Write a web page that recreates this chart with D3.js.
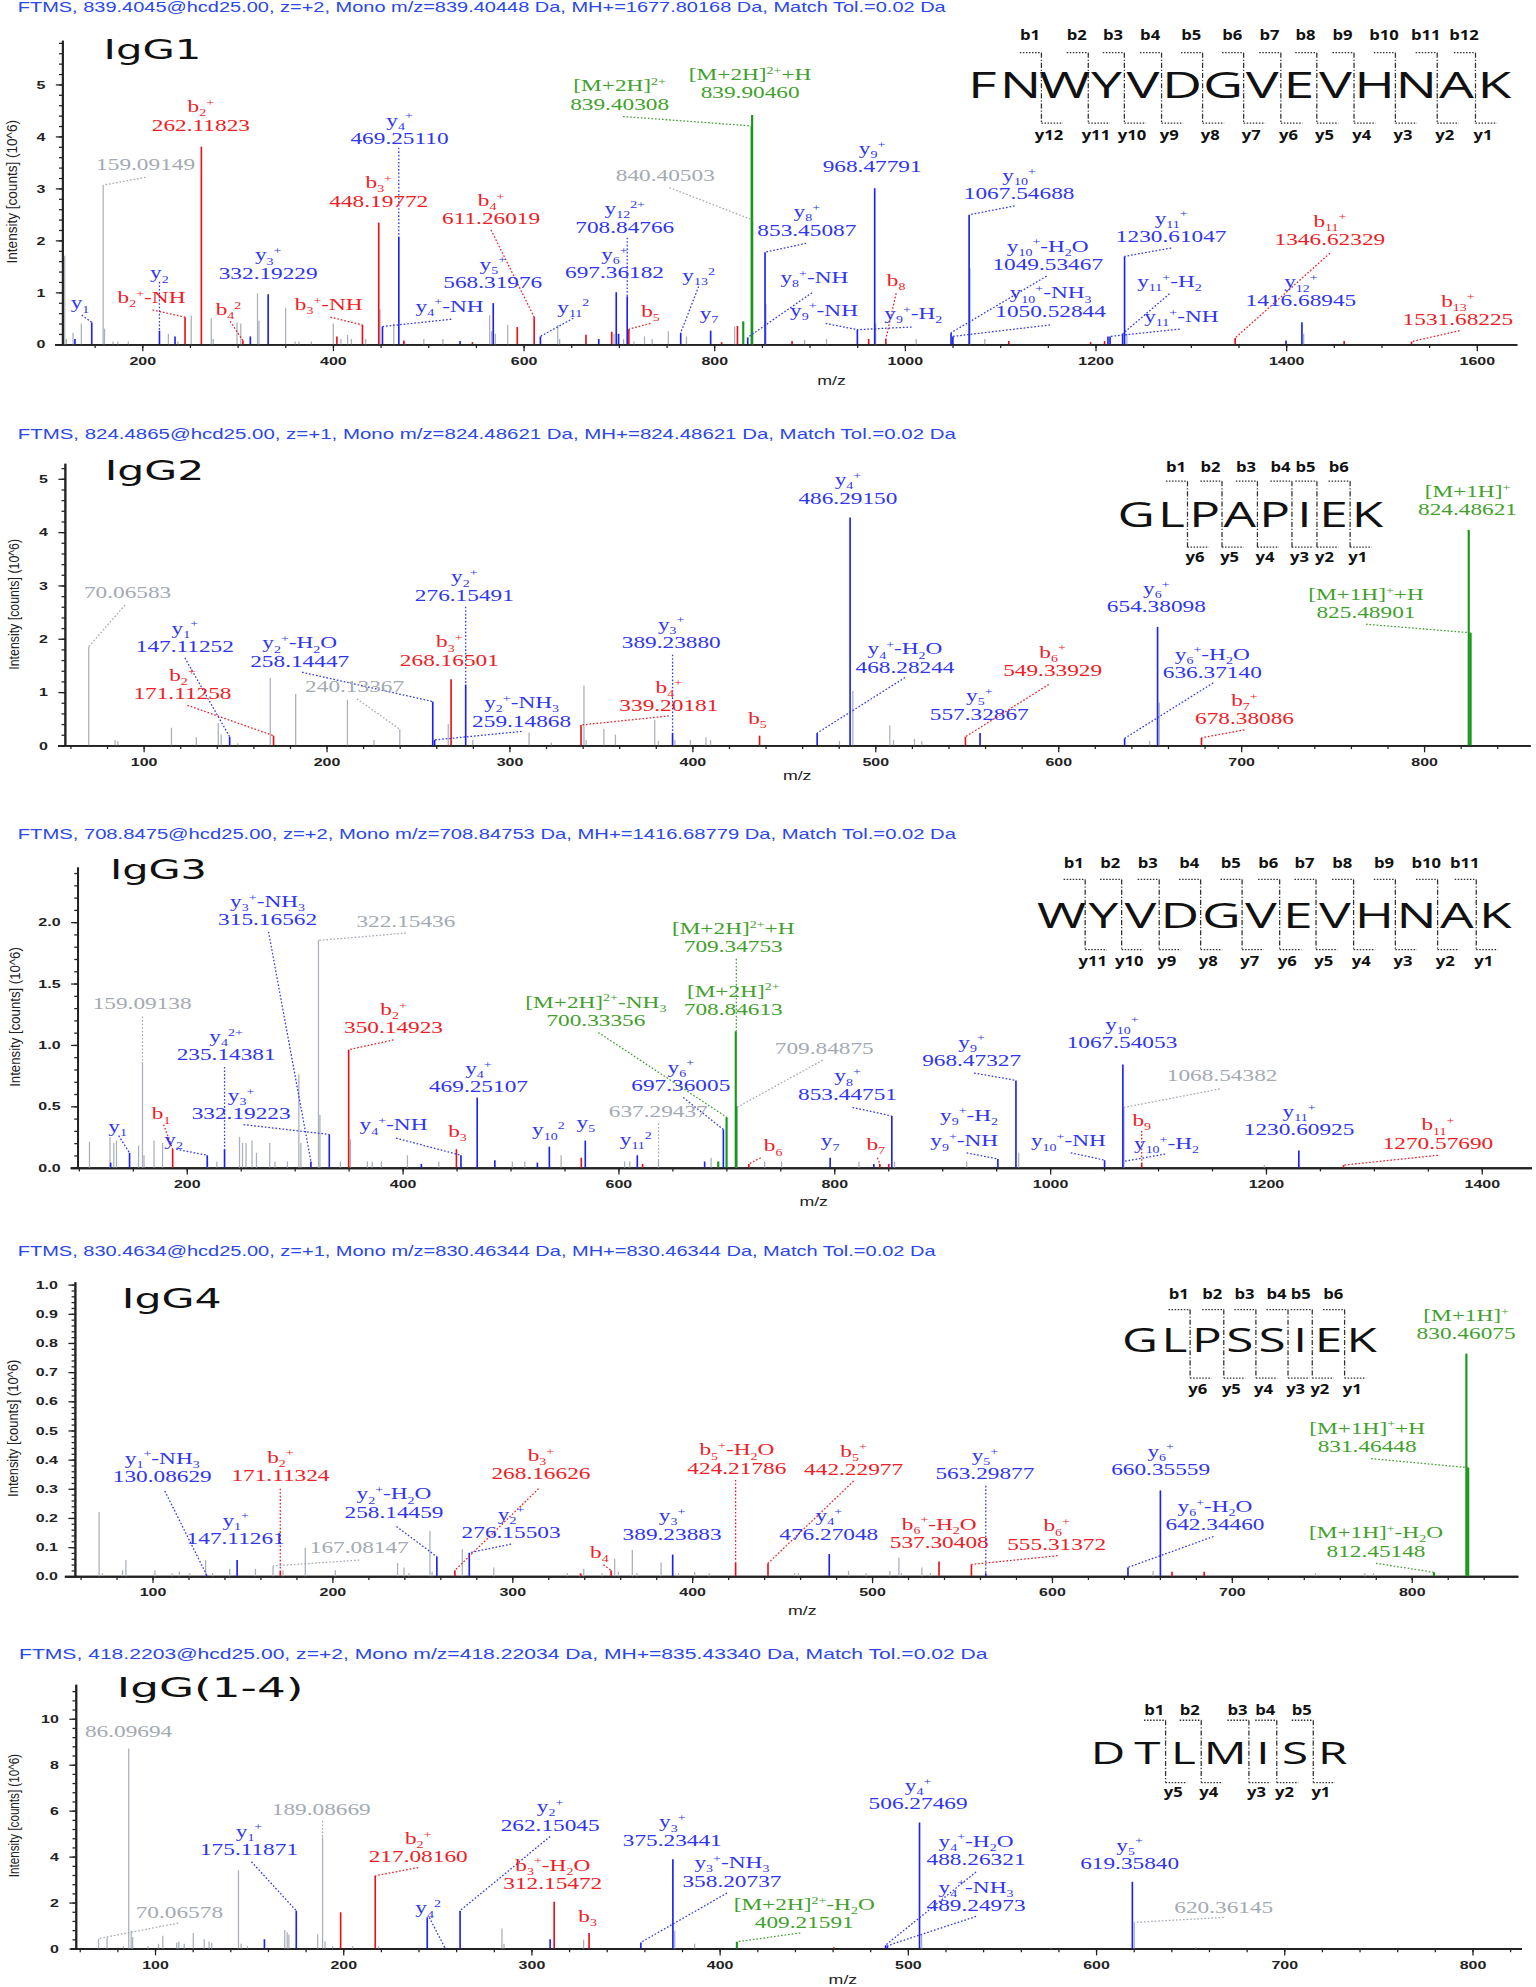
<!DOCTYPE html>
<html>
<head>
<meta charset="utf-8">
<script src="https://cdn.jsdelivr.net/npm/d3@7"></script>
<style>
  body { margin: 0; background: #fff; }
  svg { display: block; }
</style>
</head>
<body>
<svg id="fig"></svg>
<script>
// ---------------- IgG1 ----------------
var igg1Header = "FTMS, 839.4045@hcd25.00, z=+2, Mono m/z=839.40448 Da, MH+=1677.80168 Da, Match Tol.=0.02 Da";
var igg1Seq = "FNWYVDGVEVHNAK";
var igg1Cuts = [2, 3, 4, 5, 6, 7, 8, 9, 10, 11, 12, 13];
var igg1XTicks = [200, 400, 600, 800, 1000, 1200, 1400, 1600];
var igg1YTicks = [0, 1, 2, 3, 4, 5];
var igg1Peaks = [
  [118.8,1.70,"u"],[120.5,0.10,"u"],[127.5,0.22,"u"],[136.2,0.40,"u"],[159.09,3.06,"u"],[160.5,0.30,"u"],
  [169.5,0.05,"u"],[174.5,0.05,"u"],[185.5,0.05,"u"],[227.5,0.20,"u"],[237.5,0.05,"u"],[251.5,0.55,"u"],
  [272.5,0.50,"u"],[274.5,0.10,"u"],[299.5,0.42,"u"],[303.5,0.40,"u"],[321,0.98,"u"],[322.5,0.45,"u"],
  [350.5,0.70,"u"],[360.5,0.05,"u"],[364.5,0.05,"u"],[377.5,0.05,"u"],[400.5,0.40,"u"],[408.5,0.10,"u"],
  [415.5,0.18,"u"],[419.5,0.10,"u"],[434.5,0.10,"u"],[449.5,0.67,"u"],[464,0.40,"u"],[475.5,0.05,"u"],
  [495.5,0.10,"u"],[515.5,0.10,"u"],[564.5,0.56,"u"],[566.5,0.25,"u"],[570.5,0.20,"u"],[583.5,0.37,"u"],
  [636,0.37,"u"],[638,0.10,"u"],[695,0.20,"u"],[705,0.10,"u"],[716,0.05,"u"],[727,0.15,"u"],[735,0.10,"u"],
  [752,0.25,"u"],[771,0.15,"u"],[821.6,0.34,"u"],[840.40,2.39,"u"],[854.4,0.78,"u"],[895,0.08,"u"],
  [918,0.10,"u"],[969.5,0.40,"u"],[1012,0.10,"u"],[1068.5,1.46,"u"],[1084,0.10,"u"],[1233,0.20,"u"],[1418.5,0.20,"u"],
  [245,0.52,"b"],[262.12,3.80,"b"],[305.7,0.07,"b"],[404.3,0.15,"b"],[431.1,0.37,"b"],[448.20,2.34,"b"],
  [474.5,0.07,"b"],[546.5,0.04,"b"],[593.5,0.33,"b"],[611.26,0.52,"b"],[665.6,0.18,"b"],[692.6,0.24,"b"],
  [710.6,0.29,"b"],[807.9,0.04,"b"],[824.5,0.35,"b"],[881.8,0.06,"b"],[962.2,0.10,"b"],[980.2,0.10,"b"],
  [1109.2,0.06,"b"],[1195,0.04,"b"],[1209.7,0.06,"b"],[1346.62,0.12,"b"],[1461,0.06,"b"],[1531.68,0.05,"b"],
  [129.5,0.10,"y"],[147.11,0.42,"y"],[218.15,0.26,"y"],[234.5,0.15,"y"],[313.5,0.15,"y"],[332.19,0.96,"y"],
  [452.1,0.34,"y"],[469.25,2.07,"y"],[533.5,0.06,"y"],[568.32,0.79,"y"],[617.8,0.15,"y"],[679,0.10,"y"],
  [697.36,1.00,"y"],[699.8,0.20,"y"],[708.85,0.92,"y"],[765,0.22,"y"],[796.4,0.26,"y"],[835.3,0.13,"y"],
  [853.45,1.77,"y"],[950.3,0.28,"y"],[968.48,3.00,"y"],[1048.6,0.22,"y"],[1050.53,0.15,"y"],[1067.55,2.49,"y"],
  [1213.2,0.15,"y"],[1215.4,0.15,"y"],[1228.6,0.20,"y"],[1230.61,1.69,"y"],[1400,0.07,"y"],[1416.69,0.42,"y"],
  [830.6,0.44,"m"],[839.40,4.20,"m"],[839.90,4.41,"m"]
];
var igg1Labels = [
  ["", "159.09149", "u", 159.09, 3.06],
  ["b_{2}^{+}", "262.11823", "b", 262.12, 3.80],
  ["y_{4}^{+}", "469.25110", "y", 469.25, 2.07],
  ["b_{3}^{+}", "448.19772", "b", 448.20, 2.34],
  ["b_{4}^{+}", "611.26019", "b", 611.26, 0.52],
  ["y_{3}^{+}", "332.19229", "y", 332.19, 0.96],
  ["y_{5}^{+}", "568.31976", "y", 568.32, 0.79],
  ["y_{2}", "", "y", 218.15, 0.26],
  ["y_{1}", "", "y", 147.11, 0.42],
  ["b_{2}^{+}-NH", "", "b", 245, 0.52],
  ["b_{4}^{2}", "", "b", 305.7, 0.07],
  ["b_{3}^{+}-NH", "", "b", 431.1, 0.37],
  ["y_{4}^{+}-NH", "", "y", 452.1, 0.34],
  ["[M+2H]^{2+}", "839.40308", "m", 839.40, 4.20],
  ["[M+2H]^{2+}+H", "839.90460", "m", 839.90, 4.41],
  ["", "840.40503", "u", 840.40, 2.39],
  ["y_{12}^{2+}", "708.84766", "y", 708.85, 0.92],
  ["y_{6}^{+}", "697.36182", "y", 697.36, 1.00],
  ["y_{13}^{2}", "", "y", 765, 0.22],
  ["y_{11}^{2}", "", "y", 617.8, 0.15],
  ["b_{5}", "", "b", 710.6, 0.29],
  ["y_{7}", "", "y", 796.4, 0.26],
  ["y_{8}^{+}", "853.45087", "y", 853.45, 1.77],
  ["y_{8}^{+}-NH", "", "y", 835.3, 0.13],
  ["y_{9}^{+}-NH", "", "y", 950.3, 0.28],
  ["b_{8}", "", "b", 980.2, 0.10],
  ["y_{9}^{+}", "968.47791", "y", 968.48, 3.00],
  ["y_{9}^{+}-H_{2}", "", "y", 950.3, 0.28],
  ["y_{10}^{+}", "1067.54688", "y", 1067.55, 2.49],
  ["y_{10}^{+}-H_{2}O", "1049.53467", "y", 1048.6, 0.22],
  ["y_{10}^{+}-NH_{3}", "1050.52844", "y", 1050.53, 0.15],
  ["y_{11}^{+}", "1230.61047", "y", 1230.61, 1.69],
  ["y_{11}^{+}-H_{2}", "", "y", 1228.6, 0.20],
  ["y_{11}^{+}-NH", "", "y", 1215.4, 0.15],
  ["b_{11}^{+}", "1346.62329", "b", 1346.62, 0.12],
  ["y_{12}^{+}", "1416.68945", "y", 1416.69, 0.42],
  ["b_{13}^{+}", "1531.68225", "b", 1531.68, 0.05]
];
var igg1LabelAt = [
  [203.6,3.46,203.6,3.21],[261.6,4.22],[470,3.96,469.25,3.78],[448.2,2.76],[566,2.42,566,2.20],
  [332.2,1.37],[567.8,1.19],[218.1,1.38,218.15,1.20],[134.8,0.80,136.6,0.56],[209.8,0.90,210.9,0.66],
  [290.6,0.67,292.4,0.44],[395.7,0.77,397.5,0.52],[522.5,0.74,524.3,0.48],[700.9,4.62,704.5,4.38],
  [837.8,4.84],[748.8,3.26,753.2,3.01],[706.3,2.26,708.85,2.05],[695.5,1.38],[783.8,1.33,783.8,1.11],
  [652.3,0.72,652.3,0.50],[733.3,0.63,733.3,0.40],[794.6,0.60],[897.3,2.20,896.6,1.94],
  [905.2,1.29,902.7,0.99],[915.3,0.66,917,0.40],[991,1.24,991,0.98],[965.8,3.42],
  [1009,0.60,1007.2,0.33],[1120,2.90,1115.3,2.66],[1150,1.54,1148.8,1.31],[1153,0.64,1152.4,0.37],
  [1279.5,2.08,1279.5,1.85],[1277.7,1.21,1277.7,0.97],[1290.2,0.54,1288.5,0.29],[1446,2.02,1446,1.75],
  [1415.6,0.85],[1580.3,0.48,1582,0.26]
];

// ---------------- IgG2 ----------------
var igg2Header = "FTMS, 824.4865@hcd25.00, z=+1, Mono m/z=824.48621 Da, MH+=824.48621 Da, Match Tol.=0.02 Da";
var igg2Seq = "GLPAPIEK";
var igg2Cuts = [2, 3, 4, 5, 6, 7];
var igg2XTicks = [100, 200, 300, 400, 500, 600, 700, 800];
var igg2YTicks = [0, 1, 2, 3, 4, 5];
var igg2Peaks = [
  [70.07,1.85,"u"],[84.5,0.10,"u"],[86,0.08,"u"],[115.3,0.33,"u"],[128.9,0.15,"u"],[140.9,0.42,"u"],
  [142.5,0.20,"u"],[151.5,0.04,"u"],[169.3,1.26,"u"],[183.2,0.96,"u"],[211.5,0.85,"u"],[226,0.10,"u"],
  [240.13,0.30,"u"],[266.6,0.40,"u"],[280,0.10,"u"],[310.8,0.24,"u"],[323,0.05,"u"],[340.8,1.12,"u"],
  [342,0.10,"u"],[351.7,0.31,"u"],[358,0.20,"u"],[379.5,0.48,"u"],[381.5,0.08,"u"],[390.5,0.10,"u"],
  [399,0.10,"u"],[407.5,0.15,"u"],[410,0.10,"u"],[480.5,0.08,"u"],[487.8,1.02,"u"],[508,0.37,"u"],
  [510,0.10,"u"],[521.5,0.12,"u"],[525.5,0.08,"u"],[650,0.08,"u"],[655.3,0.80,"u"],
  [171.11,0.18,"b"],[268.17,1.24,"b"],[339.20,0.38,"b"],[436.8,0.18,"b"],[549.34,0.16,"b"],[678.38,0.14,"b"],
  [147.11,0.16,"y"],[258.14,0.82,"y"],[259.15,0.10,"y"],[276.15,1.14,"y"],[389.24,0.23,"y"],[468.28,0.23,"y"],
  [486.29,4.27,"y"],[557.33,0.23,"y"],[636.37,0.13,"y"],[654.38,2.22,"y"],
  [824.49,4.04,"m"],[825.49,2.11,"m"]
];
var igg2Labels = [
  ["", "70.06583", "u", 70.07, 1.85],
  ["y_{1}^{+}", "147.11252", "y", 147.11, 0.16],
  ["y_{2}^{+}-H_{2}O", "258.14447", "y", 258.14, 0.82],
  ["b_{2}^{+}", "171.11258", "b", 171.11, 0.18],
  ["", "240.13367", "u", 240.13, 0.30],
  ["y_{2}^{+}", "276.15491", "y", 276.15, 1.14],
  ["b_{3}^{+}", "268.16501", "b", 268.17, 1.24],
  ["y_{2}^{+}-NH_{3}", "259.14868", "y", 259.15, 0.10],
  ["y_{3}^{+}", "389.23880", "y", 389.24, 0.23],
  ["b_{4}^{+}", "339.20181", "b", 339.20, 0.38],
  ["b_{5}", "", "b", 436.8, 0.18],
  ["y_{4}^{+}", "486.29150", "y", 486.29, 4.27],
  ["y_{4}^{+}-H_{2}O", "468.28244", "y", 468.28, 0.23],
  ["y_{5}^{+}", "557.32867", "y", 557.33, 0.23],
  ["b_{6}^{+}", "549.33929", "b", 549.34, 0.16],
  ["y_{6}^{+}", "654.38098", "y", 654.38, 2.22],
  ["y_{6}^{+}-H_{2}O", "636.37140", "y", 636.37, 0.13],
  ["b_{7}^{+}", "678.38086", "b", 678.38, 0.14],
  ["[M+1H]^{+}", "824.48621", "m", 824.49, 4.04],
  ["[M+1H]^{+}+H", "825.48901", "m", 825.49, 2.11]
];
var igg2LabelAt = [
  [91.3,2.87,89.9,2.63],[122.6,1.86,122.6,1.64],[185.4,1.58,186.7,1.37],[121.3,0.97,124,0.75],
  [215.4,1.10,216.7,0.87],[275.4,2.82,276.15,2.60],[267.2,1.60],[306.7,0.46,306.7,0.26],
  [388.5,1.93,389.24,1.70],[387.2,0.75,387.2,0.55],[435.7,0.51],[485.1,4.64],[516.3,1.47,516.3,1.27],
  [556.9,0.59],[597,1.41,594.9,1.14],[653.7,2.60],[684.3,1.37,684.8,1.17],[701.9,0.50,701.9,0.29],
  [823.8,4.42],[768.3,2.49,768.3,2.27]
];

// ---------------- IgG3 ----------------
var igg3Header = "FTMS, 708.8475@hcd25.00, z=+2, Mono m/z=708.84753 Da, MH+=1416.68779 Da, Match Tol.=0.02 Da";
var igg3Seq = "WYVDGVEVHNAK";
var igg3Cuts = [1, 2, 3, 4, 5, 6, 7, 8, 9, 10, 11];
var igg3XTicks = [200, 400, 600, 800, 1000, 1200, 1400];
var igg3YTicks = [0, 0.5, 1.0, 1.5, 2.0];
var igg3Peaks = [
  [110,0.21,"u"],[129,0.25,"u"],[132.5,0.20,"u"],[135,0.22,"u"],[155.5,0.18,"u"],[159.09,0.86,"u"],
  [160.5,0.10,"u"],[169.8,0.22,"u"],[177.7,0.20,"u"],[219.4,0.05,"u"],[228,0.05,"u"],[249,0.25,"u"],
  [251.8,0.20,"u"],[255,0.20,"u"],[260.6,0.22,"u"],[264.7,0.12,"u"],[277,0.20,"u"],[281.9,0.05,"u"],
  [293.4,0.05,"u"],[304,0.76,"u"],[305.9,0.20,"u"],[322.15,1.85,"u"],[323.5,0.43,"u"],[342.5,0.05,"u"],
  [351.8,0.23,"u"],[367.5,0.05,"u"],[372,0.05,"u"],[380.5,0.05,"u"],[404.6,0.10,"u"],[433.7,0.05,"u"],
  [501.8,0.05,"u"],[513.4,0.05,"u"],[547,0.10,"u"],[605.9,0.05,"u"],[610.6,0.05,"u"],[637.29,0.07,"u"],
  [686,0.08,"u"],[709.85,0.49,"u"],[735.6,0.05,"u"],[751.3,0.05,"u"],[823,0.05,"u"],[856,0.05,"u"],
  [922.8,0.05,"u"],[971,0.12,"u"],[1068.54,0.49,"u"],[1198.6,0.02,"u"],
  [187.07,0.15,"b"],[350.15,0.96,"b"],[450,0.15,"b"],[565.7,0.08,"b"],[622.5,0.03,"b"],[721,0.03,"b"],
  [842.3,0.03,"b"],[850.6,0.03,"b"],[1085,0.04,"b"],[1272,0.02,"b"],
  [129.6,0.04,"y"],[147.11,0.12,"y"],[219.1,0.10,"y"],[235.14,0.15,"y"],[315.17,0.05,"y"],[332.19,0.27,"y"],
  [417.5,0.03,"y"],[454.2,0.10,"y"],[469.25,0.57,"y"],[485.6,0.06,"y"],[525,0.04,"y"],[536.1,0.17,"y"],
  [569.4,0.22,"y"],[617.6,0.10,"y"],[680,0.05,"y"],[697.36,0.31,"y"],[796.3,0.08,"y"],[836.8,0.03,"y"],
  [853.45,0.42,"y"],[951.7,0.07,"y"],[968.47,0.71,"y"],[1050.6,0.06,"y"],[1067.54,0.84,"y"],[1230.6,0.14,"y"],
  [692.6,0.05,"m"],[700.33,0.41,"m"],[708.85,1.11,"m"],[709.35,0.50,"m"]
];
var igg3Labels = [
  ["y_{3}^{+}-NH_{3}", "315.16562", "y", 315.17, 0.05],
  ["", "322.15436", "u", 322.15, 1.85],
  ["", "159.09138", "u", 159.09, 0.86],
  ["y_{4}^{2+}", "235.14381", "y", 235.14, 0.15],
  ["b_{2}^{+}", "350.14923", "b", 350.15, 0.96],
  ["y_{3}^{+}", "332.19223", "y", 332.19, 0.27],
  ["y_{1}", "", "y", 147.11, 0.12],
  ["b_{1}", "", "b", 187.07, 0.15],
  ["y_{2}", "", "y", 219.1, 0.10],
  ["y_{4}^{+}", "469.25107", "y", 469.25, 0.57],
  ["y_{4}^{+}-NH", "", "y", 454.2, 0.10],
  ["b_{3}", "", "b", 450, 0.15],
  ["y_{10}^{2}", "", "y", 536.1, 0.17],
  ["y_{5}", "", "y", 569.4, 0.22],
  ["y_{11}^{2}", "", "y", 617.6, 0.10],
  ["y_{6}^{+}", "697.36005", "y", 697.36, 0.31],
  ["", "637.29437", "u", 637.29, 0.07],
  ["[M+2H]^{2+}-NH_{3}", "700.33356", "m", 700.33, 0.41],
  ["b_{6}", "", "b", 721, 0.03],
  ["[M+2H]^{2+}+H", "709.34753", "m", 709.35, 1.11],
  ["[M+2H]^{2+}", "708.84613", "m", 708.85, 1.11],
  ["", "709.84875", "u", 709.85, 0.49],
  ["y_{9}^{+}", "968.47327", "y", 968.47, 0.71],
  ["y_{10}^{+}", "1067.54053", "y", 1067.54, 0.84],
  ["y_{8}^{+}", "853.44751", "y", 853.45, 0.42],
  ["", "1068.54382", "u", 1068.54, 0.49],
  ["y_{9}^{+}-H_{2}", "", "y", 951.7, 0.07],
  ["y_{9}^{+}-NH", "", "y", 951.7, 0.07],
  ["y_{10}^{+}-NH", "", "y", 1050.6, 0.06],
  ["b_{7}", "", "b", 842.3, 0.03],
  ["y_{7}", "", "y", 796.3, 0.08],
  ["b_{9}", "", "b", 1085, 0.04],
  ["y_{10}^{+}-H_{2}", "", "y", 1068, 0.05],
  ["y_{11}^{+}", "1230.60925", "y", 1230.6, 0.14],
  ["b_{11}^{+}", "1270.57690", "b", 1272, 0.02]
];
var igg3LabelAt = [
  [275,2.02,275.9,1.92],[403.2,2.01,403.2,1.91],[158.8,1.34,159.09,1.23],[236.6,0.92,235.14,0.82],
  [391.7,1.14,391.7,1.04],[250.5,0.44,252.8,0.35],[136.1,0.34,137,0.26],[176.4,0.44,178.7,0.35],
  [188,0.23,190.3,0.15],[470.4,0.66],[391.7,0.35,394,0.24],[451,0.30],[535.2,0.31],[569.9,0.37],
  [616.2,0.23],[657.9,0.67,660.2,0.57],[637,0.46,637.29,0.36],[579.2,1.20,581.5,1.10],
  [743.5,0.18,732,0.08],[706.5,1.80,709.35,1.70],[706.5,1.29],[790.8,0.97,789.4,0.875],
  [927.4,0.875,929.7,0.77],[1066.7,1.02],[812.4,0.60,817,0.49],[1159.5,0.75,1157.2,0.64],
  [925,0.43],[920.5,0.22,922.8,0.12],[1017,0.22,1019.3,0.12],[838.6,0.19,840,0.08],[796.3,0.22],
  [1085,0.39,1085,0.30],[1108,0.20,1106.7,0.11],[1230.8,0.31],[1359.5,0.20,1359.5,0.10]
];

// ---------------- IgG4 ----------------
var igg4Header = "FTMS, 830.4634@hcd25.00, z=+1, Mono m/z=830.46344 Da, MH+=830.46344 Da, Match Tol.=0.02 Da";
var igg4Seq = "GLPSSIEK";
var igg4Cuts = [2, 3, 4, 5, 6, 7];
var igg4XTicks = [100, 200, 300, 400, 500, 600, 700, 800];
var igg4YTicks = [0, 0.1, 0.2, 0.3, 0.4, 0.5, 0.6, 0.7, 0.8, 0.9, 1.0];
var igg4Peaks = [
  [70.4,0.22,"u"],[72.3,0.01,"u"],[83.4,0.02,"u"],[85.3,0.055,"u"],[101.4,0.02,"u"],[111,0.01,"u"],
  [115,0.015,"u"],[120.8,0.01,"u"],[129.6,0.055,"u"],[133.5,0.01,"u"],[143,0.025,"u"],[157.3,0.025,"u"],
  [167.08,0.035,"u"],[172.6,0.02,"u"],[185,0.097,"u"],[201.7,0.02,"u"],[236.3,0.045,"u"],[239.9,0.03,"u"],
  [242.6,0.01,"u"],[254.3,0.155,"u"],[255.5,0.015,"u"],[272.3,0.093,"u"],[289.8,0.03,"u"],[330.7,0.01,"u"],
  [337.6,0.01,"u"],[339.8,0.025,"u"],[350,0.01,"u"],[357,0.06,"u"],[359,0.015,"u"],[366.8,0.09,"u"],
  [369.3,0.01,"u"],[382.8,0.047,"u"],[392.5,0.01,"u"],[401.5,0.015,"u"],[409.6,0.01,"u"],[457,0.01,"u"],
  [459,0.01,"u"],[487,0.018,"u"],[496.7,0.01,"u"],[510,0.018,"u"],[515,0.064,"u"],[516.4,0.01,"u"],
  [527.8,0.03,"u"],[532.5,0.01,"u"],[656.3,0.018,"u"],[746.6,0.01,"u"],[774,0.01,"u"],[778.8,0.01,"u"],
  [171.11,0.018,"b"],[268.17,0.02,"b"],[338.2,0.009,"b"],[355,0.02,"b"],[424.22,0.047,"b"],[442.23,0.044,"b"],
  [537.3,0.05,"b"],[555.31,0.04,"b"],[666.8,0.015,"b"],[684.7,0.015,"b"],
  [130.09,0.005,"y"],[147.11,0.055,"y"],[258.14,0.067,"y"],[276.16,0.08,"y"],[389.24,0.074,"y"],
  [476.27,0.076,"y"],[563.3,0.01,"y"],[642.34,0.03,"y"],[660.36,0.294,"y"],
  [812.45,0.013,"m"],[830.46,0.763,"m"],[831.46,0.372,"m"]
];
var igg4Labels = [
  ["y_{1}^{+}-NH_{3}", "130.08629", "y", 130.09, 0.005],
  ["b_{2}^{+}", "171.11324", "b", 171.11, 0.018],
  ["y_{1}^{+}", "147.11261", "y", 147.11, 0.055],
  ["", "167.08147", "u", 167.08, 0.035],
  ["y_{2}^{+}-H_{2}O", "258.14459", "y", 258.14, 0.067],
  ["b_{3}^{+}", "268.16626", "b", 268.17, 0.02],
  ["y_{2}^{+}", "276.15503", "y", 276.16, 0.08],
  ["b_{4}", "", "b", 355, 0.02],
  ["y_{3}^{+}", "389.23883", "y", 389.24, 0.074],
  ["b_{5}^{+}-H_{2}O", "424.21786", "b", 424.22, 0.047],
  ["b_{5}^{+}", "442.22977", "b", 442.23, 0.044],
  ["y_{4}^{+}", "476.27048", "y", 476.27, 0.076],
  ["b_{6}^{+}-H_{2}O", "537.30408", "b", 537.3, 0.05],
  ["y_{5}^{+}", "563.29877", "y", 563.3, 0.01],
  ["b_{6}^{+}", "555.31372", "b", 555.31, 0.04],
  ["y_{6}^{+}", "660.35559", "y", 660.36, 0.294],
  ["y_{6}^{+}-H_{2}O", "642.34460", "y", 642.34, 0.03],
  ["[M+1H]^{+}", "830.46075", "m", 830.46, 0.763],
  ["[M+1H]^{+}+H", "831.46448", "m", 831.46, 0.372],
  ["[M+1H]^{+}-H_{2}O", "812.45148", "m", 812.45, 0.013]
];
var igg4LabelAt = [
  [105.5,0.343,106.9,0.292],[171.2,0.346,171.11,0.30],[146.3,0.13],[215,0.101,215,0.055],
  [234.3,0.22,235.7,0.17],[316,0.352,314.7,0.30],[299.4,0.151,299.4,0.11],[348.5,0.082,350.7,0.039],
  [388.9,0.145],[424.9,0.371,424.22,0.33],[489.8,0.366,489.8,0.326],[476,0.145],[537.4,0.116],
  [562.8,0.352,563.3,0.31],[602.7,0.11,603.2,0.07],[660.5,0.366],[690.7,0.177,689.9,0.136],
  [830.3,0.832],[775.3,0.446,777.5,0.403],[780.2,0.087,780.2,0.044]
];

// ---------------- IgG(1-4) ----------------
var igg14Header = "FTMS, 418.2203@hcd25.00, z=+2, Mono m/z=418.22034 Da, MH+=835.43340 Da, Match Tol.=0.02 Da";
var igg14Seq = "DTLMISR";
var igg14Cuts = [2, 3, 4, 5, 6];
var igg14XTicks = [100, 200, 300, 400, 500, 600, 700, 800];
var igg14YTicks = [0, 2, 4, 6, 8, 10];
var igg14Peaks = [
  [70.07,0.43,"u"],[74.6,0.48,"u"],[83.3,0.10,"u"],[86.1,8.70,"u"],[87.4,0.77,"u"],[88.2,0.50,"u"],
  [96.3,0.10,"u"],[101.9,0.20,"u"],[104.2,0.55,"u"],[111.6,0.25,"u"],[112.7,0.30,"u"],[115.6,0.20,"u"],
  [120.4,0.67,"u"],[126.2,0.40,"u"],[128.8,0.30,"u"],[130.2,0.25,"u"],[144.4,3.40,"u"],[145.8,0.20,"u"],
  [149.2,0.10,"u"],[169,0.80,"u"],[170.3,0.70,"u"],[171.2,0.60,"u"],[186.5,0.62,"u"],[189.09,4.84,"u"],
  [190.4,0.30,"u"],[194.4,0.10,"u"],[205,0.10,"u"],[218.8,0.10,"u"],[284.4,0.87,"u"],[285.5,0.20,"u"],
  [327.8,0.38,"u"],[376.2,0.77,"u"],[386.8,0.20,"u"],[507.4,0.58,"u"],[576,0.03,"u"],[620.36,1.13,"u"],[653,0.05,"u"],
  [198.7,1.57,"b"],[217.08,3.16,"b"],[312.15,2.03,"b"],[330.7,0.67,"b"],[460.8,0.05,"b"],
  [158.2,0.40,"y"],[175.12,1.64,"y"],[244.7,1.35,"y"],[254,0.04,"y"],[262.15,1.64,"y"],[310,0.40,"y"],
  [358.21,0.26,"y"],[375.23,3.88,"y"],[488.26,0.14,"y"],[489.25,0.12,"y"],[506.27,5.48,"y"],[619.36,2.90,"y"],
  [409.22,0.29,"m"]
];
var igg14Labels = [
  ["", "86.09694", "u", 86.1, 8.70],
  ["", "70.06578", "u", 70.07, 0.43],
  ["", "189.08669", "u", 189.09, 4.84],
  ["y_{1}^{+}", "175.11871", "y", 175.12, 1.64],
  ["b_{2}^{+}", "217.08160", "b", 217.08, 3.16],
  ["y_{2}^{+}", "262.15045", "y", 262.15, 1.64],
  ["b_{3}^{+}-H_{2}O", "312.15472", "b", 312.15, 2.03],
  ["y_{4}^{2}", "", "y", 254, 0.04],
  ["b_{3}", "", "b", 330.7, 0.67],
  ["y_{3}^{+}", "375.23441", "y", 375.23, 3.88],
  ["y_{3}^{+}-NH_{3}", "358.20737", "y", 358.21, 0.26],
  ["[M+2H]^{2+}-H_{2}O", "409.21591", "m", 409.22, 0.29],
  ["y_{4}^{+}", "506.27469", "y", 506.27, 5.48],
  ["y_{4}^{+}-H_{2}O", "488.26321", "y", 488.26, 0.14],
  ["y_{4}^{+}-NH_{3}", "489.24973", "y", 489.25, 0.12],
  ["y_{5}^{+}", "619.35840", "y", 619.36, 2.90],
  ["", "620.36145", "u", 620.36, 1.13]
];
var igg14LabelAt = [
  [86,9.46],[113,1.59,112.4,1.10],[188.4,6.06,189.09,5.55],[150,4.32,151.3,3.77],[239.9,4.0,239.9,3.52],
  [310,5.38,310,4.87],[311.4,2.84],[245.2,1.78,245.8,1.35],[329.9,1.42],[374.9,4.72],
  [406.6,2.94,404,2.41],[445,1.13,442.9,0.67],[505.5,6.3],[536.3,3.88,536.3,3.33],
  [536.3,1.88,536.3,1.39],[617.9,3.71],[667.9,1.81,667.9,1.35]
];

// ---------------- layout (px in a 1210 x 1565 frame) ----------------
var panels = [
  {title: "IgG1", header: igg1Header, seq: igg1Seq, cuts: igg1Cuts, xTicks: igg1XTicks, yTicks: igg1YTicks,
   peaks: igg1Peaks, labels: igg1Labels, at: igg1LabelAt,
   xDomain: [108, 1642], xRange: [42.9, 1194.8], base: 271.1, unit: 40.94, yMax: 5.85, yAxisX: 49,
   xMinor: 50, yMinor: 0.2, yFmt: "d", hdr: [14, 9.8, 731], ttl: [81.6, 46.7, 77], ylab: [9.5, 151, 113], mz: [655, 303],
   sq: {span: [760, 1192], base: 77.4, font: 29, top: 41.5, bot: 97, bLab: 31.8, yLab: 110}},
  {title: "IgG2", header: igg2Header, seq: igg2Seq, cuts: igg2Cuts, xTicks: igg2XTicks, yTicks: igg2YTicks,
   peaks: igg2Peaks, labels: igg2Labels, at: igg2LabelAt,
   xDomain: [53, 858], xRange: [45.3, 1205.3], base: 587, unit: 42, yMax: 5.29, yAxisX: 51,
   xMinor: 20, yMinor: 0.2, yFmt: "d", hdr: [14, 345.4, 739], ttl: [82.5, 378.3, 78.5], ylab: [11, 476, 103], mz: [628, 614],
   sq: {span: [880, 1091], base: 415, font: 27, top: 379, bot: 431, bLab: 371.5, yLab: 443}},
  {title: "IgG3", header: igg3Header, seq: igg3Seq, cuts: igg3Cuts, xTicks: igg3XTicks, yTicks: igg3YTicks,
   peaks: igg3Peaks, labels: igg3Labels, at: igg3LabelAt,
   xDomain: [92, 1446], xRange: [55.2, 1206.3], base: 919.6, unit: 96.7, yMax: 2.45, yAxisX: 61,
   xMinor: 50, yMinor: 0.1, yFmt: ".1f", hdr: [14, 661, 739], ttl: [86.6, 692, 76.4], ylab: [11.8, 801, 110], mz: [641, 950],
   sq: {span: [817.6, 1192.9], base: 730.6, font: 28, top: 692.7, bot: 748, bLab: 684, yLab: 760.5}},
  {title: "IgG4", header: igg4Header, seq: igg4Seq, cuts: igg4Cuts, xTicks: igg4XTicks, yTicks: igg4YTicks,
   peaks: igg4Peaks, labels: igg4Labels, at: igg4LabelAt,
   xDomain: [51, 859], xRange: [50.6, 1195.6], base: 1241.4, unit: 229.7, yMax: 1.01, yAxisX: 58.9,
   xMinor: 20, yMinor: 0.02, yFmt: ".1f", hdr: [14, 989.4, 723], ttl: [96, 1030.6, 78.6], ylab: [9.8, 1125, 108], mz: [632, 1272],
   sq: {span: [883.4, 1086], base: 1064.9, font: 26, top: 1031.4, bot: 1085.4, bLab: 1023.5, yLab: 1098}},
  {title: "IgG(1-4)", header: igg14Header, seq: igg14Seq, cuts: igg14Cuts, xTicks: igg14XTicks, yTicks: igg14YTicks,
   peaks: igg14Peaks, labels: igg14Labels, at: igg14LabelAt,
   xDomain: [55, 826], xRange: [55.3, 1198.4], base: 1534.6, unit: 18.1, yMax: 11.5, yAxisX: 59.6,
   xMinor: 20, yMinor: 0.4, yFmt: "d", hdr: [15, 1307, 763], ttl: [92, 1336.5, 147], ylab: [11, 1430, 97], mz: [664, 1563],
   sq: {span: [856.2, 1065], base: 1389.7, font: 25, top: 1354.9, bot: 1404, bLab: 1350.5, yLab: 1415}}
];

var SERIF = "'Liberation Serif','Times New Roman',serif";
var SANS = "'Liberation Sans',Arial,sans-serif";
var DEJAVU = "'DejaVu Sans',Verdana,sans-serif";
var OPEN = "'Open Sans','DejaVu Sans',sans-serif";
var SX = 1.36;        // the source figure is stretched sideways
var SEQ_SX = 1.5;
var GAP = 14.5;       // name line above the m/z line
var labelColor = {b: "#ee1d26", y: "#3036ee", m: "#3fa12c", u: "#a3aab4"};
var stemColor = {b: "#e6121b", y: "#1b22f2", m: "#16981a", u: "#aab1ba"};
var AXIS = "#222";

var svg = d3.select("#fig")
  .attr("width", 1536).attr("height", 1987)
  .attr("viewBox", "0 0 1210 1565")
  .attr("preserveAspectRatio", "none");

function richText(t, str) {
  var parts = str.split(/(_\{[^}]*\}|\^\{[^}]*\})/).filter(function(s) { return s.length; });
  var cur = 0;
  parts.forEach(function(p) {
    var off = 0, txt = p, small = false;
    if (p[0] === "_") { off = 3.3; txt = p.slice(2, -1); small = true; }
    else if (p[0] === "^") { off = -5; txt = p.slice(2, -1); small = true; }
    var ts = t.append("tspan").attr("dy", off - cur).text(txt);
    if (small) ts.attr("font-size", "0.6em");
    cur = off;
  });
}

function drawLabel(g, px, py, name, value, color) {
  var lines = (name && value) ? [[name, py - GAP], [value, py]] : [[name || value, py]];
  lines.forEach(function(l) {
    var t = g.append("text")
      .attr("transform", "translate(" + px + "," + (l[1] + 4.6) + ") scale(" + SX + ",1)")
      .attr("text-anchor", "middle")
      .attr("font-family", SERIF).attr("font-size", 13.5)
      .attr("fill", color);
    richText(t, l[0]);
  });
}

function drawAxes(g, P, x, y) {
  var xMinor = d3.range(Math.ceil(P.xDomain[0] / P.xMinor) * P.xMinor, P.xDomain[1], P.xMinor);
  var yMinor = d3.range(0, P.yMax + 1e-9, P.yMinor).map(function(v) { return +v.toFixed(3); });

  var gx = g.append("g").attr("transform", "translate(0," + P.base + ")");
  gx.append("g").call(d3.axisBottom(x).tickValues(xMinor).tickSize(3).tickSizeOuter(0).tickFormat(""));
  var gxm = gx.append("g").call(d3.axisBottom(x).tickValues(P.xTicks).tickSize(5.5).tickSizeOuter(0)
    .tickFormat(d3.format("d")));
  gxm.attr("font-family", SANS).attr("font-size", 9).attr("font-weight", "bold");
  gxm.selectAll("text").attr("y", 16).attr("dy", null).attr("fill", "#222")
    .attr("transform", "scale(1.4,1)");

  var gy = g.append("g").attr("transform", "translate(" + P.yAxisX + ",0)");
  gy.append("g").call(d3.axisLeft(y).tickValues(yMinor).tickSize(2.5).tickSizeOuter(0).tickFormat(""));
  var gym = gy.append("g").call(d3.axisLeft(y).tickValues(P.yTicks).tickSize(5).tickSizeOuter(0)
    .tickFormat(d3.format(P.yFmt)));
  gym.attr("font-family", SANS).attr("font-size", 9).attr("font-weight", "bold");
  gym.selectAll("text").attr("x", -9.5).attr("fill", "#222").attr("transform", "scale(1.4,1)");

  g.selectAll(".domain").attr("stroke", AXIS).attr("stroke-width", 1.5);
  g.selectAll(".tick line").attr("stroke", AXIS).attr("stroke-width", 1);
}

function drawSequence(g, P) {
  var S = P.sq, chars = P.seq.split("");
  var gl = g.append("g").attr("font-family", OPEN).attr("font-size", S.font).attr("fill", "#111");
  var t = gl.selectAll("text").data(chars).enter().append("text").text(function(d) { return d; });
  var w = t.nodes().map(function(n) { return n.getComputedTextLength() * SEQ_SX; });
  // residue cells: half their own width, half the mean width, scaled to fill the span
  var mean = d3.mean(w);
  var cell = w.map(function(wi) { return 0.5 * wi + 0.5 * mean; });
  var k = (S.span[1] - S.span[0]) / d3.sum(cell);
  var edges = [S.span[0]], cx = [];
  cell.forEach(function(c, i) {
    cx.push(edges[i] + c * k / 2);
    edges.push(edges[i] + c * k);
  });
  t.attr("text-anchor", "middle")
    .attr("transform", function(d, i) { return "translate(" + cx[i] + "," + S.base + ") scale(" + SEQ_SX + ",1)"; });

  var n = P.cuts.length, hook = 17;
  var gm = g.append("g").attr("stroke", "#333").attr("stroke-width", 1).attr("fill", "none");
  var gt = g.append("g").attr("font-family", OPEN).attr("font-size", 10.5).attr("font-weight", "bold")
    .attr("fill", "#111").attr("text-anchor", "middle");
  P.cuts.forEach(function(c, j) {
    var xd = edges[c];
    gm.append("line").attr("x1", xd - hook).attr("x2", xd).attr("y1", S.top).attr("y2", S.top)
      .attr("stroke-dasharray", "1.2,1.2");
    gm.append("line").attr("x1", xd).attr("x2", xd).attr("y1", S.top).attr("y2", S.bot)
      .attr("stroke-dasharray", "4,1.5,1,1.5");
    gm.append("line").attr("x1", xd).attr("x2", xd + hook).attr("y1", S.bot).attr("y2", S.bot)
      .attr("stroke-dasharray", "1.2,1.2");
    gt.append("text").attr("transform", "translate(" + (xd - 9) + "," + S.bLab + ") scale(1.25,1)")
      .text("b" + (j + 1));
    gt.append("text").attr("transform", "translate(" + (xd + 6) + "," + S.yLab + ") scale(1.25,1)")
      .text("y" + (n - j));
  });
}

function drawPanel(P) {
  var g = svg.append("g");
  var x = d3.scaleLinear().domain(P.xDomain).range(P.xRange);
  var y = d3.scaleLinear().domain([0, P.yMax]).range([P.base, P.base - P.yMax * P.unit]);

  g.append("text").attr("x", P.hdr[0]).attr("y", P.hdr[1])
    .attr("font-family", SANS).attr("font-size", 11).attr("fill", "#2b48e8")
    .attr("textLength", P.hdr[2]).attr("lengthAdjust", "spacingAndGlyphs")
    .text(P.header);

  g.append("text").attr("x", P.ttl[0]).attr("y", P.ttl[1])
    .attr("font-family", DEJAVU).attr("font-size", 21).attr("fill", "#111")
    .attr("textLength", P.ttl[2]).attr("lengthAdjust", "spacingAndGlyphs")
    .text(P.title);

  g.append("text")
    .attr("transform", "translate(" + (P.ylab[0] + 4) + "," + P.ylab[1] + ") rotate(-90) scale(1,1.35)")
    .attr("text-anchor", "middle").attr("font-family", SANS).attr("font-size", 9).attr("fill", "#222")
    .attr("textLength", P.ylab[2]).attr("lengthAdjust", "spacingAndGlyphs")
    .text("Intensity [counts] (10^6)");

  g.append("text").attr("transform", "translate(" + P.mz[0] + "," + P.mz[1] + ") scale(1.4,1)")
    .attr("text-anchor", "middle").attr("font-family", SANS).attr("font-size", 10).attr("fill", "#222")
    .text("m/z");

  drawAxes(g, P, x, y);

  // peaks: grey first, then b, y and precursor on top
  var order = {u: 0, b: 1, y: 2, m: 3};
  var peaks = P.peaks.slice().sort(function(a, b) { return order[a[2]] - order[b[2]]; });
  g.append("g").selectAll("line").data(peaks).enter().append("line")
    .attr("x1", function(d) { return x(d[0]); }).attr("x2", function(d) { return x(d[0]); })
    .attr("y1", y(0)).attr("y2", function(d) { return y(d[1]); })
    .attr("stroke", function(d) { return stemColor[d[2]]; })
    .attr("stroke-width", function(d) { return d[2] === "u" ? 1 : (d[2] === "m" ? 1.7 : 1.3); });

  // leaders and labels
  var gl = g.append("g");
  P.labels.forEach(function(L, i) {
    var a = P.at[i], col = labelColor[L[2]];
    if (a.length > 2) {
      gl.append("line")
        .attr("x1", x(a[2])).attr("y1", y(a[3])).attr("x2", x(L[3])).attr("y2", y(L[4]))
        .attr("stroke", col).attr("stroke-width", 1).attr("stroke-dasharray", "1.3,1.5");
    }
    drawLabel(gl, x(a[0]), y(a[1]), L[0], L[1], col);
  });

  drawSequence(g, P);
}

panels.forEach(drawPanel);
</script>
</body>
</html>
